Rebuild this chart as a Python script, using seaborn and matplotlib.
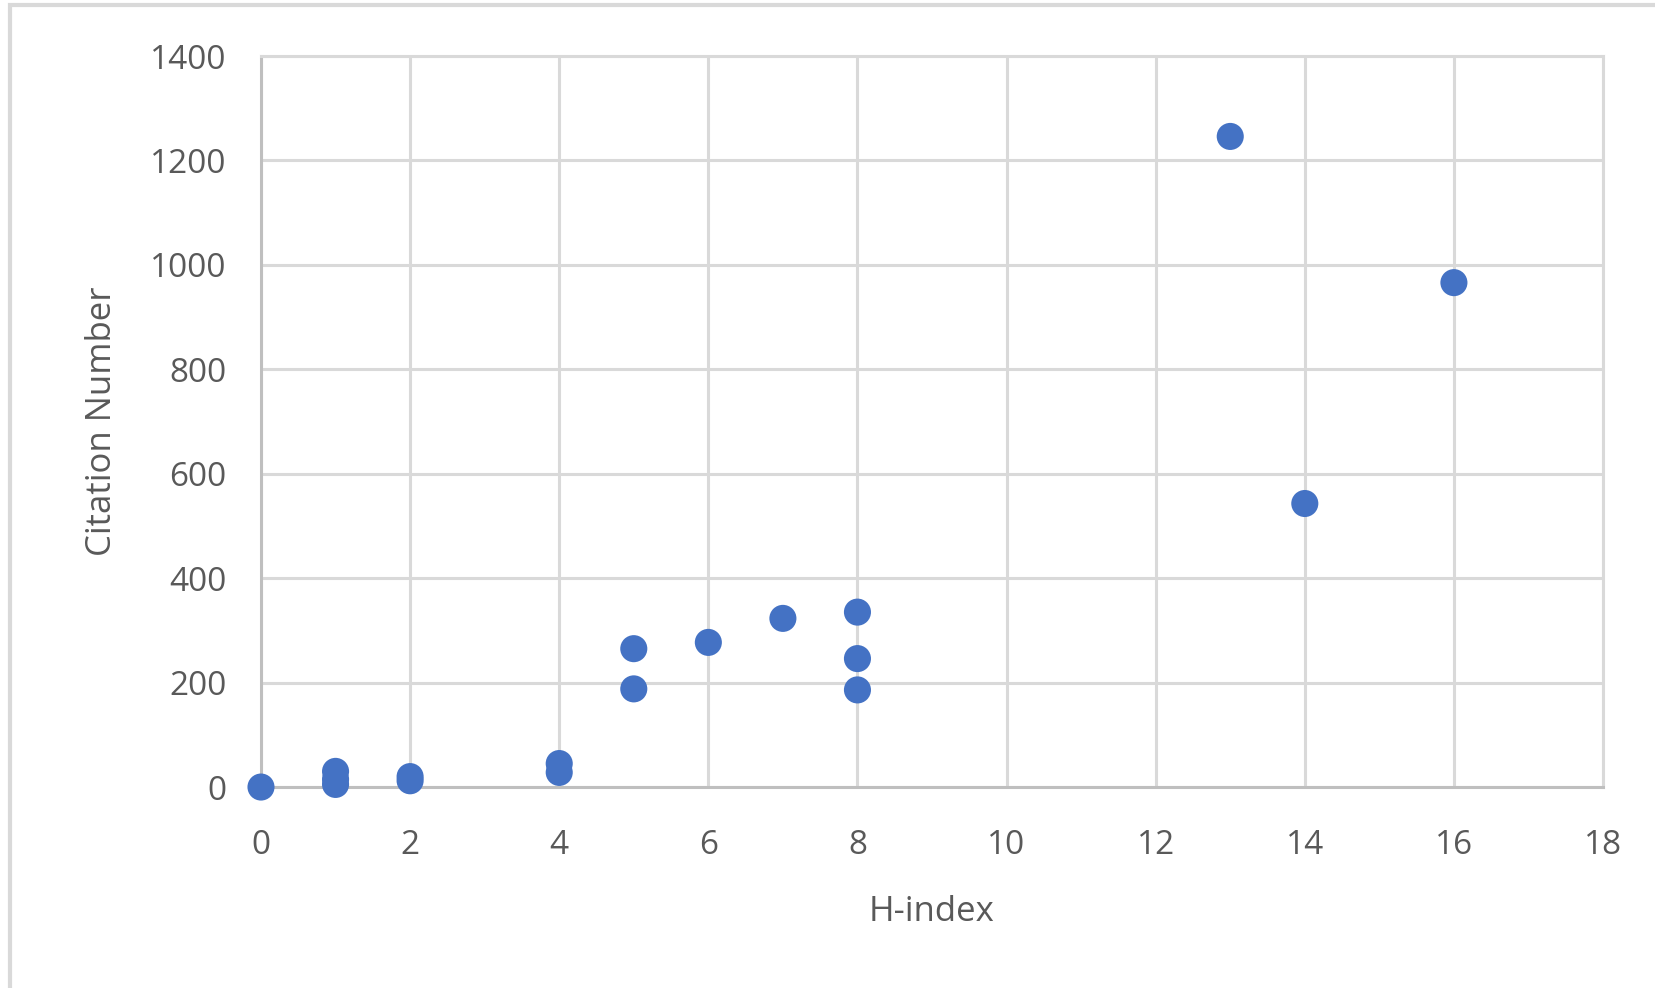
import matplotlib
matplotlib.use("Agg")
import matplotlib.pyplot as plt
import seaborn as sns
import pandas as pd
from matplotlib.patches import Rectangle

# data
h_index = [0, 1, 1, 1, 2, 2, 4, 4, 5, 5, 6, 7, 8, 8, 8, 13, 14, 16]
citations = [0, 30, 15, 5, 20, 12, 45, 28, 265, 188, 277, 323, 335, 246, 186, 1246, 543, 966]

df = pd.DataFrame({"H-index": h_index, "Citation Number": citations})

sns.set_style("white")
plt.rcParams["font.family"] = ["Open Sans", "DejaVu Sans"]

fig = plt.figure(figsize=(16.55, 9.88), dpi=100)
ax = fig.add_axes([0.1577, 0.2034, 0.8109, 0.7399])

sns.scatterplot(data=df, x="H-index", y="Citation Number", ax=ax,
                color="#4472C4", s=380, edgecolor="none", zorder=3, clip_on=False)

ax.set_xlim(0, 18)
ax.set_ylim(0, 1400)
ax.set_xticks(range(0, 19, 2))
ax.set_yticks(range(0, 1401, 200))
ax.grid(True, color="#D9D9D9", linewidth=2.2)
ax.set_axisbelow(True)

for side in ["top", "right"]:
    ax.spines[side].set_color("#D9D9D9")
    ax.spines[side].set_linewidth(2.2)
for side in ["bottom", "left"]:
    ax.spines[side].set_color("#BFBFBF")
    ax.spines[side].set_linewidth(2.2)

ax.tick_params(axis="both", length=0, labelsize=24, labelcolor="#595959")
ax.tick_params(axis="x", pad=30)
ax.tick_params(axis="y", pad=25)
ax.set_xlabel("H-index", fontsize=25, color="#595959", labelpad=24)
ax.set_ylabel("Citation Number", fontsize=25, color="#595959", labelpad=22)

# outer chart border
fig.patches.append(Rectangle((10 / 1655, -0.05), 1.1, 1 - 5 / 988 + 0.05,
                             transform=fig.transFigure, fill=False,
                             edgecolor="#D9D9D9", linewidth=3))

fig.savefig("out.png", dpi=100)
